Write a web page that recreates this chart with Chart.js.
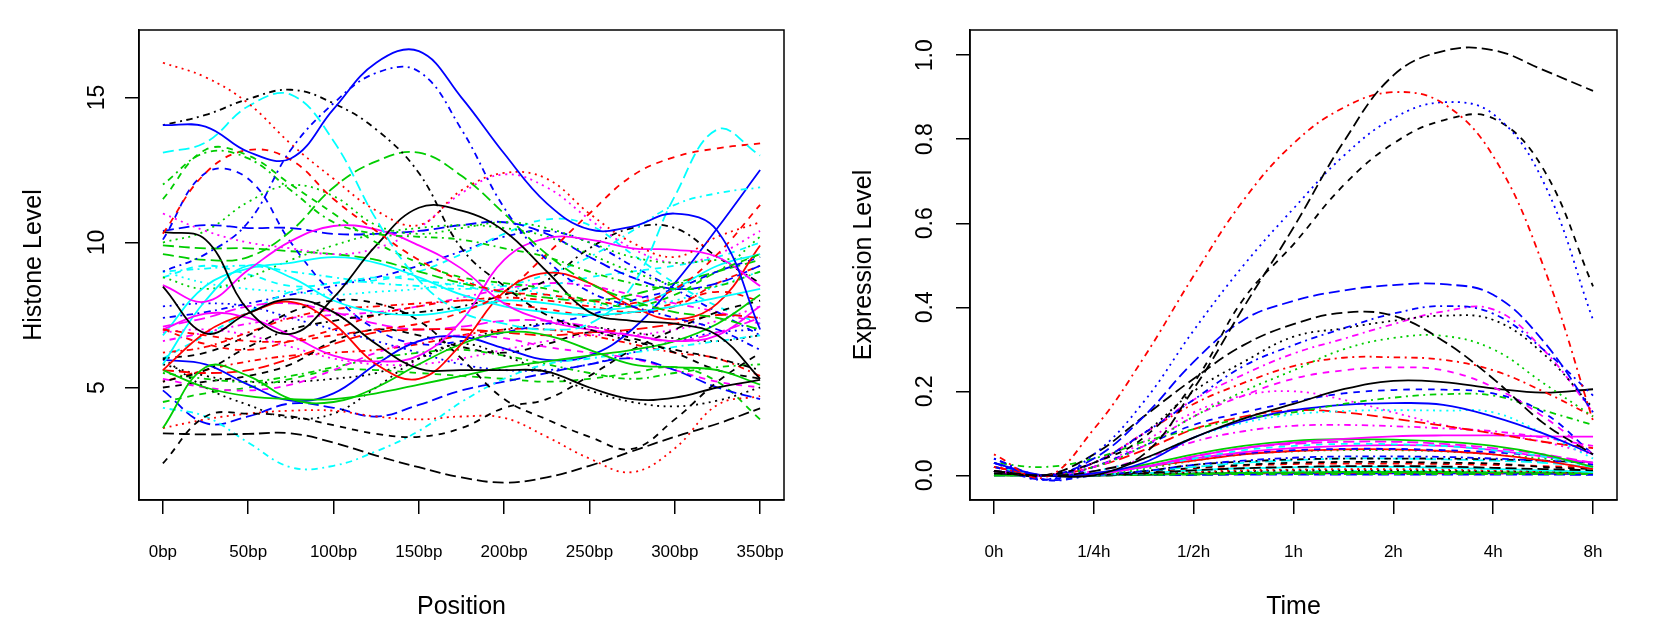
<!DOCTYPE html>
<html lang="en">
<head>
  <meta charset="UTF-8">
  <title>Histone level and expression level profiles</title>
  <script src="https://cdn.jsdelivr.net/npm/chart.js@4.4.1/dist/chart.umd.min.js"></script>
  <style>
    body { margin: 0; background: #fff; }
    .panel { position: absolute; top: 0; width: 830px; height: 636px; }
  </style>
</head>
<body>
  <div class="panel" style="left:0"><canvas id="histChart" width="830" height="636"></canvas></div>
  <div class="panel" style="left:830px"><canvas id="exprChart" width="830" height="636"></canvas></div>

  <script>
    // ---- left panel: histone level along position ----
    const positions = [0, 25, 50, 75, 100, 125, 150, 175, 200, 225, 250, 275, 300, 325, 350];
    const positionTicks = [0, 50, 100, 150, 200, 250, 300, 350];
    const histTicks = [5, 10, 15];

    const histStyle = [
      ['blue', 'solid'], ['blue', 'dotdash'], ['black', 'dotdash'], ['red', 'dotted'], ['cyan', 'longdash'],
      ['green3', 'longdash'], ['green3', 'dotdash'], ['green3', 'dashed'], ['red', 'dashed'], ['red', 'dashed'],
      ['black', 'solid'], ['black', 'solid'], ['magenta', 'solid'], ['magenta', 'solid'], ['cyan', 'solid'],
      ['cyan', 'solid'], ['red', 'solid'], ['green3', 'solid'], ['green3', 'solid'], ['black', 'longdash'],
      ['black', 'dashed'], ['black', 'dashed'], ['cyan', 'dotdash'], ['red', 'dotted'], ['black', 'dotted'],
      ['blue', 'longdash'], ['blue', 'dashed'], ['green3', 'dotted'], ['green3', 'dotted'], ['magenta', 'dotted'],
      ['cyan', 'dotdash'], ['black', 'dotdash'], ['blue', 'solid'], ['green3', 'longdash'], ['blue', 'longdash'],
      ['red', 'dashed'], ['red', 'longdash'], ['magenta', 'dashed'], ['magenta', 'longdash'], ['cyan', 'dashed'],
      ['green3', 'dotdash'], ['black', 'dashed'], ['red', 'dotdash'], ['blue', 'dotted'], ['magenta', 'dotted'],
      ['green3', 'dashed'], ['cyan', 'dotted'], ['black', 'dotted'], ['magenta', 'dotdash'], ['cyan', 'dashed'],
      ['blue', 'dotdash'], ['red', 'dotdash']
    ];

    const histLevels = [
      [14.05, 14.0, 13.13, 12.9, 14.6, 16.2, 16.6, 15.0, 13.07, 11.35, 10.45, 10.55, 11.0, 10.4, 7.0],
      [9.0, 9.6, 10.7, 13.2, 14.8, 15.85, 15.9, 13.9, 11.2, 9.4, 8.3, 7.8, 7.4, 7.0, 6.3],
      [14.05, 14.4, 14.95, 15.27, 14.8, 13.9, 12.4, 9.8, 8.5, 7.5, 7.0, 6.6, 6.3, 6.0, 5.6],
      [16.2, 15.7, 14.8, 13.4, 12.2, 11.1, 10.6, 11.8, 12.4, 12.2, 11.0, 10.0, 9.5, 10.2, 10.7],
      [13.1, 13.45, 14.7, 15.1, 13.5, 10.8, 8.7, 7.6, 7.2, 7.0, 7.2, 8.5, 11.6, 13.9, 13.0],
      [9.6, 9.4, 9.5, 10.4, 11.9, 12.8, 13.1, 12.3, 11.0, 9.6, 8.6, 8.0, 7.6, 7.4, 7.0],
      [12.0, 13.1, 12.9, 11.8, 10.7, 10.3, 10.2, 10.1, 9.8, 9.5, 9.0, 8.6, 8.4, 8.5, 9.0],
      [11.5, 13.2, 13.0, 12.0, 11.0, 10.0, 9.3, 8.8, 8.6, 8.4, 8.0, 7.8, 8.2, 9.0, 9.6],
      [10.3, 12.4, 13.19, 12.85, 11.5, 10.4, 9.4, 8.7, 8.3, 8.2, 8.0, 7.9, 8.4, 9.6, 11.3],
      [7.0, 6.8, 6.6, 6.6, 6.8, 7.0, 7.2, 7.6, 8.3, 9.6, 11.0, 12.3, 12.95, 13.25, 13.42],
      [10.37, 10.1, 7.67, 6.85, 8.1, 9.9, 11.2, 11.1, 10.4, 9.0, 7.6, 7.3, 7.2, 6.8, 5.3],
      [8.48, 6.87, 7.56, 8.05, 7.6, 6.5, 5.65, 5.6, 5.6, 5.55, 5.0, 4.6, 4.65, 5.0, 5.26],
      [8.53, 7.96, 9.05, 10.05, 10.57, 10.45, 9.9, 9.1, 7.9, 7.3, 7.0, 6.8, 6.6, 6.8, 7.8],
      [7.0, 7.55, 7.4, 6.8, 6.1, 5.9, 6.1, 7.3, 9.4, 10.15, 10.1, 9.8, 9.75, 9.5, 8.5],
      [6.8, 8.5, 9.1, 9.3, 9.5, 9.3, 8.8, 8.2, 7.8, 7.6, 7.5, 7.6, 7.8, 8.1, 8.4],
      [5.8, 8.0, 9.2, 8.8, 8.0, 7.6, 7.5, 7.7, 8.0, 7.9, 7.7, 7.8, 8.4, 9.2, 9.6],
      [5.6, 6.9, 7.56, 7.95, 7.2, 5.8, 5.3, 6.5, 8.3, 8.95, 8.6, 7.8, 7.35, 7.9, 9.9],
      [3.6, 5.7, 5.4, 4.6, 4.5, 5.0, 5.8, 6.5, 6.9, 6.8, 6.3, 5.8, 5.7, 5.6, 5.1],
      [5.6, 5.0, 4.7, 4.6, 4.6, 4.8, 5.1, 5.4, 5.7, 5.9, 6.1, 6.3, 6.6, 7.2, 8.2],
      [3.42, 3.38, 3.4, 3.42, 3.1, 2.65, 2.25, 1.9, 1.72, 1.9, 2.3, 2.8, 3.3, 3.75, 4.28],
      [6.0, 6.2, 6.8, 7.6, 8.0, 7.9, 7.3, 6.0, 4.6, 3.9, 3.3, 2.88, 3.9, 5.2, 6.2],
      [2.38, 4.0, 4.1, 4.0, 3.7, 3.4, 3.3, 3.6, 4.3, 4.6, 5.4, 6.3, 7.0, 7.6, 8.0],
      [4.3, 4.0, 3.1, 2.25, 2.3, 2.8, 3.5, 4.5, 5.3, 5.8, 6.0, 6.2, 6.4, 6.6, 6.8],
      [3.6, 3.9, 4.1, 4.2, 4.2, 4.0, 3.9, 4.0, 3.95, 3.3, 2.55, 2.08, 2.9, 4.4, 4.7],
      [6.0, 5.0, 4.4, 3.95, 4.1, 5.0, 6.0, 6.5, 6.1, 5.5, 4.9, 4.5, 4.35, 4.55, 5.0],
      [4.9, 3.77, 4.0, 4.45, 4.3, 4.0, 4.4, 4.9, 5.2, 5.5, 5.8, 6.0, 5.6, 5.0, 4.6],
      [10.1, 12.4, 12.2, 10.0, 8.2, 7.0, 6.5, 6.6, 6.9, 7.2, 7.5, 8.0, 8.4, 9.0, 9.5],
      [10.0, 10.4, 11.4, 11.98, 11.6, 10.6, 10.3, 10.5, 10.7, 10.5, 10.0, 9.5, 9.3, 9.4, 9.5],
      [8.8, 8.4, 8.8, 9.4, 9.9, 10.3, 10.5, 10.6, 10.5, 10.2, 9.6, 9.0, 8.6, 9.0, 10.2],
      [11.0, 10.4, 10.0, 9.8, 9.6, 9.8, 10.5, 11.7, 12.35, 11.9, 10.8, 9.8, 9.3, 9.6, 10.4],
      [9.0, 9.1, 9.2, 9.0, 8.8, 8.6, 8.5, 8.4, 8.5, 8.9, 9.5, 10.4, 11.3, 11.7, 11.9],
      [5.2, 5.6, 6.4, 7.0, 7.3, 7.5, 7.6, 7.8, 8.2, 8.7, 9.8, 10.5, 10.5, 9.5, 8.6],
      [5.95, 5.8, 5.1, 4.55, 4.8, 5.8, 6.6, 6.75, 6.35, 5.95, 6.1, 7.0, 8.6, 10.5, 12.5],
      [9.9, 9.8, 9.8, 9.7, 9.6, 9.4, 9.0, 8.6, 8.3, 8.1, 8.0, 8.2, 8.6, 9.0, 9.4],
      [10.4, 10.6, 10.5, 10.5, 10.3, 10.3, 10.4, 10.6, 10.7, 10.3, 9.5, 8.8, 8.4, 8.6, 9.2],
      [7.0, 6.5, 6.3, 6.6, 7.0, 7.5, 7.8, 8.0, 7.9, 7.7, 7.5, 7.6, 7.9, 8.3, 8.0],
      [5.6, 5.5, 5.6, 6.0, 6.5, 6.9, 7.0, 7.0, 6.9, 6.8, 6.9, 7.0, 7.2, 7.5, 7.4],
      [5.3, 5.0, 4.9, 5.1, 5.6, 6.2, 6.6, 6.8, 6.7, 6.4, 6.2, 6.0, 5.6, 5.2, 5.0],
      [7.1, 7.4, 7.8, 7.9, 7.6, 7.2, 7.0, 7.1, 7.3, 7.3, 7.1, 6.8, 6.6, 6.9, 7.4],
      [8.8, 9.2, 8.9, 8.5, 8.6, 8.8, 8.7, 8.5, 8.3, 8.5, 8.8, 9.0, 9.2, 9.5, 10.0],
      [5.5, 5.3, 5.2, 5.4, 5.7, 6.0, 6.2, 6.3, 6.1, 5.8, 5.5, 5.3, 5.5, 5.7, 5.8],
      [5.0, 5.2, 5.4, 5.8, 6.6, 7.0, 6.8, 6.4, 6.2, 6.5, 6.9, 6.7, 6.2, 5.6, 5.3],
      [6.2, 6.4, 6.9, 7.4, 7.7, 7.8, 7.9, 8.0, 8.1, 8.0, 7.8, 7.6, 7.8, 8.6, 9.2],
      [7.8, 7.9, 7.8, 7.4, 7.0, 6.6, 6.2, 5.8, 5.6, 5.6, 5.8, 6.2, 6.6, 6.9, 7.0],
      [6.9, 7.0, 6.8, 6.4, 6.0, 5.8, 5.8, 6.0, 6.3, 6.6, 6.8, 6.8, 7.0, 7.3, 7.8],
      [4.5, 4.8, 5.0, 5.3, 5.6, 5.6, 5.5, 5.4, 5.3, 5.2, 5.3, 5.5, 5.7, 5.2, 3.9],
      [9.0, 8.6, 8.4, 8.3, 8.2, 8.3, 8.4, 8.6, 8.5, 8.2, 7.9, 7.8, 8.0, 8.5, 9.0],
      [5.8, 5.4, 5.2, 5.2, 5.3, 5.5, 6.0, 6.6, 7.0, 7.2, 7.1, 6.9, 6.7, 6.6, 6.8],
      [6.6, 6.9, 7.2, 7.4, 7.5, 7.6, 7.8, 8.1, 8.4, 8.6, 8.5, 8.2, 7.9, 7.6, 7.2],
      [6.0, 6.8, 7.6, 8.3, 8.6, 8.7, 9.0, 9.6, 10.3, 10.8, 10.6, 9.6, 8.6, 7.8, 7.2],
      [7.4, 7.6, 7.9, 8.2, 8.5, 8.8, 9.2, 9.7, 10.2, 10.4, 10.0, 9.2, 8.4, 7.6, 6.8],
      [5.2, 5.6, 5.9, 6.1, 6.2, 6.3, 6.5, 6.8, 7.0, 7.0, 6.8, 6.5, 6.2, 6.0, 5.4]
    ];

    // ---- right panel: expression level over time ----
    const timeLabels = ['0h', '1/4h', '1/2h', '1h', '2h', '4h', '8h'];
    const timeSteps = [0, 0.5, 1, 1.5, 2, 2.5, 3, 3.5, 4, 4.5, 5, 5.5, 6];
    const exprTicks = [0, 0.2, 0.4, 0.6, 0.8, 1.0];

    const exprStyle = [
      ['black', 'longdash'], ['red', 'dotdash'], ['blue', 'dotted'], ['black', 'dashed'], ['blue', 'longdash'],
      ['black', 'longdash'], ['blue', 'dotdash'], ['black', 'dotted'], ['magenta', 'dotdash'], ['green3', 'dotted'],
      ['red', 'dotdash'], ['magenta', 'dashed'], ['black', 'solid'], ['blue', 'dashed'], ['green3', 'dotdash'],
      ['blue', 'solid'], ['cyan', 'dotted'], ['red', 'longdash'], ['magenta', 'dotdash'], ['magenta', 'solid'],
      ['magenta', 'dotted'], ['green3', 'solid'], ['magenta', 'longdash'], ['cyan', 'dashed'], ['magenta', 'solid'],
      ['blue', 'dashed'], ['red', 'solid'], ['green3', 'dotted'], ['blue', 'dotdash'], ['black', 'dotdash'],
      ['cyan', 'longdash'], ['black', 'dashed'], ['red', 'dashed'], ['black', 'longdash'], ['cyan', 'solid'],
      ['red', 'dotted'], ['black', 'dotted'], ['green3', 'solid'], ['green3', 'dashed'], ['blue', 'longdash'],
      ['red', 'dotdash'], ['cyan', 'dotdash'], ['magenta', 'dotted'], ['green3', 'longdash'], ['blue', 'solid'],
      ['black', 'solid']
    ];

    const exprLevels = [
      [0.01, 0.0, 0.01, 0.05, 0.206, 0.40, 0.59, 0.793, 0.952, 1.01, 1.012, 0.965, 0.915],
      [0.05, -0.005, 0.11, 0.28, 0.475, 0.655, 0.79, 0.875, 0.912, 0.885, 0.76, 0.5, 0.13],
      [0.03, -0.01, 0.05, 0.175, 0.345, 0.5, 0.635, 0.76, 0.85, 0.888, 0.86, 0.7, 0.37],
      [0.01, 0.0, 0.03, 0.09, 0.22, 0.42, 0.55, 0.69, 0.79, 0.845, 0.85, 0.73, 0.45],
      [0.03, 0.0, 0.04, 0.14, 0.27, 0.37, 0.415, 0.44, 0.453, 0.455, 0.43, 0.32, 0.15],
      [0.01, 0.0, 0.05, 0.14, 0.23, 0.31, 0.36, 0.387, 0.38, 0.32, 0.23, 0.125, 0.05],
      [0.04, 0.0, 0.03, 0.1, 0.18, 0.26, 0.31, 0.35, 0.385, 0.403, 0.385, 0.3, 0.19],
      [0.01, 0.0, 0.03, 0.1, 0.2, 0.27, 0.33, 0.35, 0.368, 0.38, 0.37, 0.29, 0.16],
      [0.01, 0.0, 0.03, 0.1, 0.18, 0.24, 0.29, 0.325, 0.36, 0.39, 0.395, 0.3, 0.15],
      [0.01, 0.0, 0.02, 0.07, 0.14, 0.2, 0.25, 0.3, 0.327, 0.332, 0.3, 0.22, 0.14],
      [0.02, 0.0, 0.03, 0.1, 0.17, 0.22, 0.26, 0.28, 0.281, 0.275, 0.25, 0.2, 0.14],
      [0.01, 0.0, 0.02, 0.07, 0.14, 0.19, 0.23, 0.25, 0.257, 0.25, 0.21, 0.14, 0.05],
      [0.005, 0.0, 0.0, 0.04, 0.09, 0.135, 0.17, 0.205, 0.225, 0.222, 0.207, 0.197, 0.205],
      [0.02, -0.01, 0.02, 0.07, 0.12, 0.15, 0.175, 0.195, 0.203, 0.204, 0.195, 0.15, 0.05],
      [0.03, 0.02, 0.04, 0.08, 0.11, 0.135, 0.15, 0.17, 0.185, 0.193, 0.19, 0.155, 0.12],
      [0.03, 0.0, 0.005, 0.03, 0.09, 0.13, 0.155, 0.168, 0.172, 0.168, 0.14, 0.1, 0.05],
      [0.01, 0.0, 0.01, 0.04, 0.09, 0.125, 0.145, 0.153, 0.155, 0.154, 0.15, 0.1, 0.04],
      [0.02, 0.0, 0.02, 0.06, 0.11, 0.14, 0.155, 0.15, 0.135, 0.118, 0.1, 0.08, 0.065],
      [0.01, 0.0, 0.01, 0.04, 0.08, 0.105, 0.118, 0.12, 0.117, 0.112, 0.105, 0.09, 0.07],
      [0.01, 0.0, 0.005, 0.02, 0.045, 0.065, 0.078, 0.087, 0.093, 0.095, 0.095, 0.093, 0.092],
      [0.01, 0.0, 0.02, 0.08, 0.15, 0.19, 0.2, 0.18, 0.15, 0.12, 0.1, 0.08, 0.05],
      [0.01, 0.0, 0.005, 0.025, 0.05, 0.07, 0.082, 0.086, 0.085, 0.08, 0.07, 0.05, 0.02],
      [0.01, 0.0, 0.005, 0.02, 0.045, 0.065, 0.075, 0.08, 0.08, 0.075, 0.065, 0.05, 0.03],
      [0.02, 0.0, 0.005, 0.02, 0.04, 0.06, 0.07, 0.075, 0.074, 0.07, 0.06, 0.045, 0.02],
      [0.01, 0.0, 0.003, 0.02, 0.04, 0.055, 0.065, 0.07, 0.072, 0.07, 0.06, 0.045, 0.03],
      [0.03, -0.01, 0.003, 0.02, 0.04, 0.052, 0.06, 0.063, 0.063, 0.06, 0.055, 0.045, 0.025],
      [0.02, 0.0, 0.003, 0.02, 0.035, 0.05, 0.058, 0.062, 0.062, 0.058, 0.05, 0.035, 0.015],
      [0.01, 0.0, 0.0, 0.015, 0.035, 0.05, 0.057, 0.06, 0.06, 0.057, 0.05, 0.04, 0.03],
      [0.04, -0.01, 0.0, 0.01, 0.025, 0.035, 0.042, 0.045, 0.045, 0.044, 0.04, 0.035, 0.03],
      [0.01, 0.0, 0.0, 0.01, 0.025, 0.033, 0.038, 0.04, 0.04, 0.04, 0.038, 0.035, 0.03],
      [0.01, 0.0, 0.0, 0.01, 0.02, 0.03, 0.036, 0.04, 0.04, 0.038, 0.035, 0.03, 0.02],
      [0.01, 0.0, 0.0, 0.008, 0.018, 0.025, 0.03, 0.032, 0.032, 0.03, 0.028, 0.02, 0.015],
      [0.02, 0.0, 0.0, 0.008, 0.017, 0.023, 0.027, 0.028, 0.028, 0.027, 0.025, 0.022, 0.018],
      [0.01, 0.0, 0.0, 0.005, 0.012, 0.017, 0.02, 0.022, 0.022, 0.021, 0.018, 0.015, 0.012],
      [0.01, 0.0, 0.0, 0.005, 0.012, 0.017, 0.019, 0.02, 0.02, 0.018, 0.015, 0.012, 0.008],
      [0.02, 0.0, 0.0, 0.004, 0.009, 0.012, 0.014, 0.015, 0.015, 0.014, 0.012, 0.01, 0.008],
      [0.005, 0.0, 0.0, 0.003, 0.007, 0.01, 0.012, 0.012, 0.012, 0.011, 0.01, 0.009, 0.008],
      [0.0, 0.0, 0.0, 0.002, 0.004, 0.006, 0.007, 0.008, 0.008, 0.008, 0.007, 0.007, 0.006],
      [0.0, 0.0, 0.0, 0.001, 0.002, 0.003, 0.003, 0.003, 0.003, 0.003, 0.003, 0.003, 0.003],
      [0.0, 0.0, 0.0, 0.001, 0.001, 0.002, 0.002, 0.002, 0.002, 0.002, 0.002, 0.002, 0.001],
      [0.01, 0.0, 0.0, 0.002, 0.004, 0.005, 0.006, 0.006, 0.006, 0.006, 0.005, 0.005, 0.004],
      [0.005, 0.0, 0.0, 0.003, 0.006, 0.008, 0.01, 0.01, 0.01, 0.01, 0.009, 0.008, 0.006],
      [0.01, 0.0, 0.0, 0.003, 0.006, 0.008, 0.009, 0.01, 0.01, 0.01, 0.009, 0.008, 0.007],
      [0.0, 0.0, 0.0, 0.001, 0.002, 0.003, 0.004, 0.004, 0.004, 0.004, 0.004, 0.004, 0.003],
      [0.01, 0.0, 0.0, 0.002, 0.003, 0.004, 0.005, 0.005, 0.005, 0.005, 0.005, 0.004, 0.004],
      [0.0, 0.0, 0.0, 0.002, 0.004, 0.005, 0.006, 0.006, 0.006, 0.006, 0.006, 0.005, 0.005]
    ];

    // R palette and line types
    const palette = {
      black: '#000000', red: '#FF0000', green3: '#00CD00',
      blue: '#0000FF', cyan: '#00FFFF', magenta: '#FF00FF'
    };
    const dashes = {
      solid: [], dashed: [6.5, 6], dotted: [2, 4.5],
      dotdash: [2, 4.5, 6.5, 4.5], longdash: [11, 5]
    };

    const fontFamily = '"Liberation Sans", Arial, Helvetica, sans-serif';

    function makeSets(xs, levels, styles) {
      return levels.map((row, i) => ({
        data: row.map((v, j) => ({ x: xs[j], y: v })),
        borderColor: palette[styles[i][0]],
        borderDash: dashes[styles[i][1]],
        borderWidth: 1.8,
        pointRadius: 0,
        tension: 0.4,
        fill: false
      }));
    }

    // box around the plot region, like R's box()
    const frame = {
      id: 'frame',
      afterDatasetsDraw(chart) {
        const a = chart.chartArea, c = chart.ctx;
        c.save();
        c.strokeStyle = '#000';
        c.lineWidth = 1.5;
        c.strokeRect(a.left, a.top, a.right - a.left, a.bottom - a.top);
        c.restore();
      }
    };

    function panelOptions(o) {
      return {
        responsive: false,
        animation: false,
        devicePixelRatio: 1,
        layout: { padding: { top: 30, right: o.padRight, left: 0, bottom: 0 } },
        plugins: { legend: { display: false }, tooltip: { enabled: false } },
        scales: {
          x: {
            type: 'linear', min: o.xMin, max: o.xMax,
            afterBuildTicks: s => { s.ticks = o.xTicks.map(v => ({ value: v })); },
            afterFit: s => { s.height = 136; },
            ticks: {
              callback: o.xLabel, autoSkip: false, maxRotation: 0,
              font: { family: fontFamily, size: 17 }, color: '#000', padding: 28
            },
            grid: { drawOnChartArea: false, tickLength: 14, color: '#000', lineWidth: 1.5 },
            border: { color: '#000', width: 1.5 },
            title: {
              display: true, text: o.xTitle, color: '#000',
              font: { family: fontFamily, size: 25 }, padding: { top: 0, bottom: 14 }
            }
          },
          y: {
            type: 'linear', min: o.yMin, max: o.yMax,
            afterBuildTicks: s => { s.ticks = o.yTicks.map(v => ({ value: v })); },
            afterFit: s => { s.width = o.yWidth; },
            ticks: {
              callback: o.yLabel, minRotation: 90, maxRotation: 90, crossAlign: 'center',
              font: { family: fontFamily, size: 23 }, color: '#000', padding: o.yPad
            },
            grid: { drawOnChartArea: false, tickLength: 14, color: '#000', lineWidth: 1.5 },
            border: { color: '#000', width: 1.5 },
            title: {
              display: true, text: o.yTitle, color: '#000',
              font: { family: fontFamily, size: 25 }, padding: { top: 19.5, bottom: 0 }
            }
          }
        }
      };
    }

    new Chart(document.getElementById('histChart'), {
      type: 'line',
      data: { datasets: makeSets(positions, histLevels, histStyle) },
      options: panelOptions({
        padRight: 46, yWidth: 139, yPad: 15,
        xMin: -14, xMax: 364, xTicks: positionTicks, xLabel: v => v + 'bp', xTitle: 'Position',
        yMin: 1.12, yMax: 17.33, yTicks: histTicks, yLabel: v => String(v), yTitle: 'Histone Level'
      }),
      plugins: [frame]
    });

    new Chart(document.getElementById('exprChart'), {
      type: 'line',
      data: { datasets: makeSets(timeSteps, exprLevels, exprStyle) },
      options: panelOptions({
        padRight: 43, yWidth: 140, yPad: 14,
        xMin: -0.24, xMax: 6.24, xTicks: [0, 1, 2, 3, 4, 5, 6], xLabel: v => timeLabels[v], xTitle: 'Time',
        yMin: -0.0586, yMax: 1.06, yTicks: exprTicks, yLabel: v => v.toFixed(1), yTitle: 'Expression Level'
      }),
      plugins: [frame]
    });
  </script>
</body>
</html>
